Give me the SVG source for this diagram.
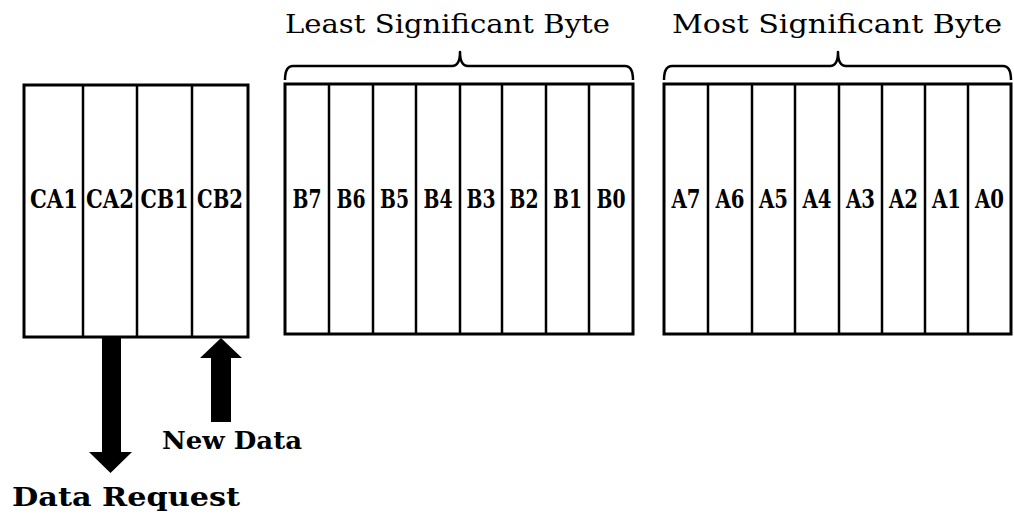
<svg xmlns="http://www.w3.org/2000/svg" width="1014" height="516" viewBox="0 0 1014 516">
<style>
.box{fill:#fff;stroke:#000;stroke-width:3}
.div{stroke:#000;stroke-width:2.5}
.cell{font-family:"DejaVu Serif","Liberation Serif",serif;font-weight:bold;font-size:26px;text-anchor:middle;fill:#000}
.title{font-family:"DejaVu Serif","Liberation Serif",serif;font-size:26px;text-anchor:middle;fill:#000}
.lbl{font-family:"DejaVu Serif","Liberation Serif",serif;font-weight:bold;fill:#000}
.brace{fill:none;stroke:#000;stroke-width:2.5;stroke-linejoin:round}
.arrow{fill:#000;stroke:none}
</style>
<rect width="1014" height="516" fill="#fff"/>
<g id="control">
<rect class="box" x="24" y="85" width="224" height="252"/>
<line class="div" x1="83" y1="85" x2="83" y2="337"/>
<line class="div" x1="137" y1="85" x2="137" y2="337"/>
<line class="div" x1="192" y1="85" x2="192" y2="337"/>
<text class="cell" x="54" y="208" textLength="48" lengthAdjust="spacingAndGlyphs">CA1</text>
<text class="cell" x="110" y="208" textLength="48" lengthAdjust="spacingAndGlyphs">CA2</text>
<text class="cell" x="164.5" y="208" textLength="48" lengthAdjust="spacingAndGlyphs">CB1</text>
<text class="cell" x="220" y="208" textLength="46" lengthAdjust="spacingAndGlyphs">CB2</text>
</g>
<g id="lsb">
<text class="title" x="447.5" y="33" textLength="325" lengthAdjust="spacingAndGlyphs">Least Significant Byte</text>
<path class="brace" d="M285,80 Q285,66 293,66 L452,66 Q460,66 460,52 Q460,66 468,66 L625,66 Q633,66 633,80"/>
<rect class="box" x="285" y="84" width="348" height="250"/>
<line class="div" x1="329" y1="84" x2="329" y2="334"/>
<line class="div" x1="373" y1="84" x2="373" y2="334"/>
<line class="div" x1="416" y1="84" x2="416" y2="334"/>
<line class="div" x1="460" y1="84" x2="460" y2="334"/>
<line class="div" x1="502" y1="84" x2="502" y2="334"/>
<line class="div" x1="546" y1="84" x2="546" y2="334"/>
<line class="div" x1="589" y1="84" x2="589" y2="334"/>
<text class="cell" x="307" y="208" textLength="29" lengthAdjust="spacingAndGlyphs">B7</text>
<text class="cell" x="351" y="208" textLength="29" lengthAdjust="spacingAndGlyphs">B6</text>
<text class="cell" x="394.5" y="208" textLength="29" lengthAdjust="spacingAndGlyphs">B5</text>
<text class="cell" x="438" y="208" textLength="29" lengthAdjust="spacingAndGlyphs">B4</text>
<text class="cell" x="481" y="208" textLength="29" lengthAdjust="spacingAndGlyphs">B3</text>
<text class="cell" x="524" y="208" textLength="29" lengthAdjust="spacingAndGlyphs">B2</text>
<text class="cell" x="567.5" y="208" textLength="29" lengthAdjust="spacingAndGlyphs">B1</text>
<text class="cell" x="611" y="208" textLength="29" lengthAdjust="spacingAndGlyphs">B0</text>
</g>
<g id="msb">
<text class="title" x="837" y="33" textLength="330" lengthAdjust="spacingAndGlyphs">Most Significant Byte</text>
<path class="brace" d="M664,80 Q664,66 672,66 L830,66 Q838,66 838,52 Q838,66 846,66 L1003,66 Q1011,66 1011,80"/>
<rect class="box" x="664" y="84" width="347" height="250"/>
<line class="div" x1="708" y1="84" x2="708" y2="334"/>
<line class="div" x1="752" y1="84" x2="752" y2="334"/>
<line class="div" x1="795" y1="84" x2="795" y2="334"/>
<line class="div" x1="839" y1="84" x2="839" y2="334"/>
<line class="div" x1="882" y1="84" x2="882" y2="334"/>
<line class="div" x1="925" y1="84" x2="925" y2="334"/>
<line class="div" x1="968" y1="84" x2="968" y2="334"/>
<text class="cell" x="686" y="208" textLength="29" lengthAdjust="spacingAndGlyphs">A7</text>
<text class="cell" x="730" y="208" textLength="29" lengthAdjust="spacingAndGlyphs">A6</text>
<text class="cell" x="773.5" y="208" textLength="29" lengthAdjust="spacingAndGlyphs">A5</text>
<text class="cell" x="817" y="208" textLength="29" lengthAdjust="spacingAndGlyphs">A4</text>
<text class="cell" x="860.5" y="208" textLength="29" lengthAdjust="spacingAndGlyphs">A3</text>
<text class="cell" x="903.5" y="208" textLength="29" lengthAdjust="spacingAndGlyphs">A2</text>
<text class="cell" x="946.5" y="208" textLength="29" lengthAdjust="spacingAndGlyphs">A1</text>
<text class="cell" x="989.5" y="208" textLength="29" lengthAdjust="spacingAndGlyphs">A0</text>
</g>
<g id="connectors">
<polygon class="arrow" points="102,338 121,338 121,452 132,452 110.5,473 89,452 102,452"/>
<polygon class="arrow" points="221,338 242,358 231,358 231,422 211,422 211,358 200,358"/>
</g>
<g id="labels">
<text class="lbl" x="162" y="449" font-size="24" textLength="140" lengthAdjust="spacingAndGlyphs">New Data</text>
<text class="lbl" x="12" y="506" font-size="26" textLength="228" lengthAdjust="spacingAndGlyphs">Data Request</text>
</g>
</svg>
